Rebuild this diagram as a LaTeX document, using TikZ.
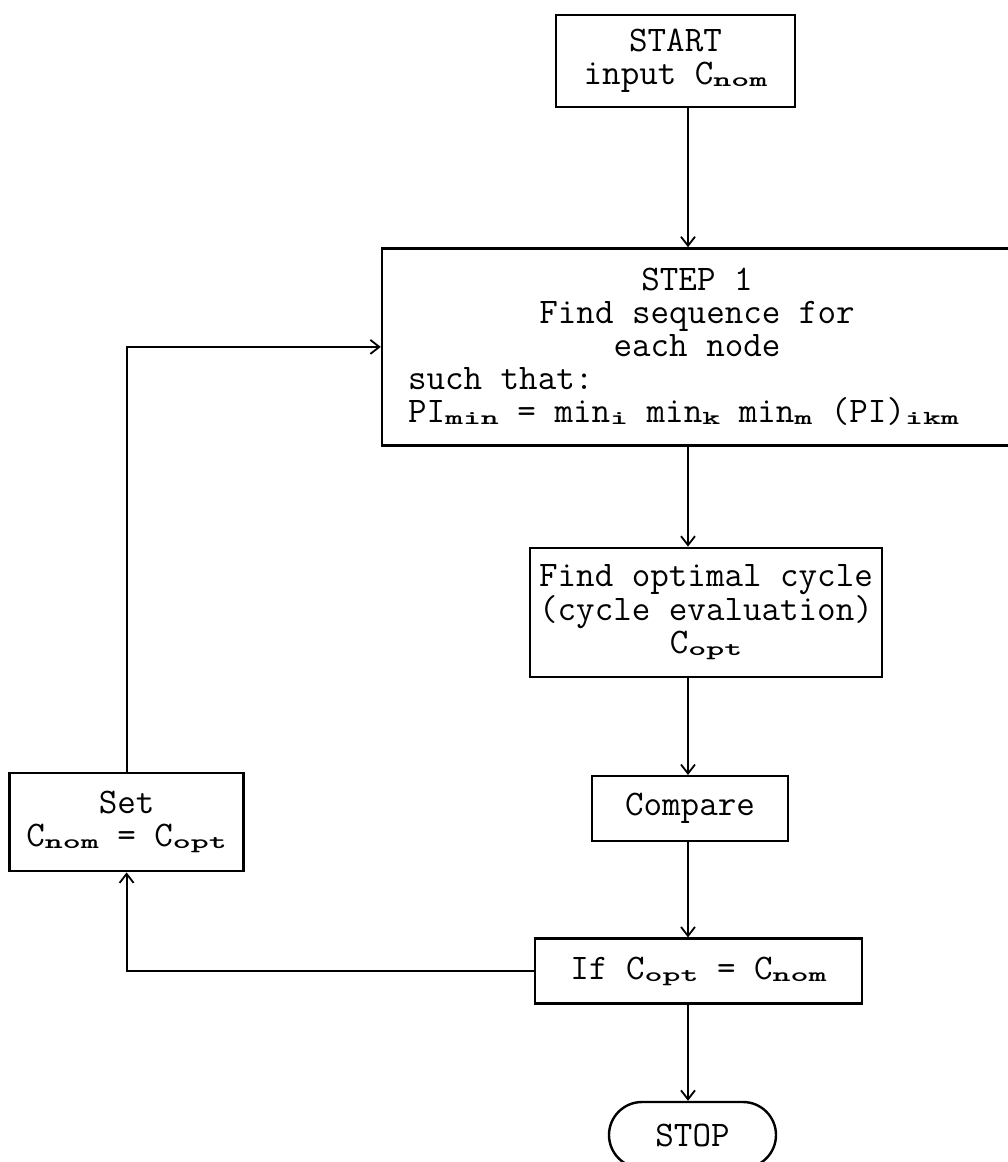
\documentclass[tikz,border=0pt]{standalone}
\usepackage{fontspec}
\usepackage{graphicx}
\usetikzlibrary{arrows.meta, positioning, shapes.misc}
% short wide subscripts as in the typed original
\newcommand{\lo}[1]{\raisebox{-2pt}{\scalebox{0.95}[0.55]{\bfseries #1}}}
% a line set flush left across the wide box
\newcommand{\flushline}[1]{\makebox[578pt][l]{#1}}
\tikzset{
  box/.style={
    rectangle,
    draw,
    line width=2.4pt,
    align=center,
    inner sep=4pt,
    font=\ttfamily\fontsize{36}{33}\selectfont
  },
  terminal/.style={
    rounded rectangle,
    draw,
    line width=2.4pt,
    inner sep=4pt,
    font=\ttfamily\fontsize{36}{33}\selectfont
  },
  arrow/.style={-{Straight Barb[length=9pt,width=14pt]}, line width=1.8pt}
}
\begin{document}
\begin{tikzpicture}[x=1pt, y=-1pt]
  \useasboundingbox (0,0) rectangle (1008,1162);

  \node[box, minimum width=239pt, minimum height=92pt] (start) at (675.5,61)
        {START\\input C\lo{nom}};

  \node[box, below=139pt of start, xshift=21.5pt, minimum width=630pt,
        minimum height=197pt] (step)
        {STEP 1\\Find sequence for\\each node\\
         \flushline{such that:}\\
         \flushline{PI\lo{min} = min\lo{i} min\lo{k} min\lo{m} (PI)\lo{ikm}}};

  \node[box, below=100pt of step, xshift=9pt, minimum width=352pt,
        minimum height=129pt] (find)
        {Find optimal cycle\\(cycle evaluation)\\C\lo{opt}};

  \node[box, below=97pt of find, xshift=-16pt, minimum width=196pt,
        minimum height=65pt] (compare) {Compare};

  \node[box, below=95pt of compare, xshift=8.5pt, minimum width=327pt,
        minimum height=65pt] (test) {If C\lo{opt} = C\lo{nom}};

  \node[terminal, below=96pt of test, xshift=-6pt, minimum width=175pt,
        minimum height=66pt] (stop) {STOP};

  \node[box, left=346pt of compare, yshift=-13.5pt, minimum width=234pt,
        minimum height=98pt] (set) {Set\\C\lo{nom} = C\lo{opt}};

  \coordinate (spine) at (688,0);

  \draw[arrow] (start.south -| spine) -- (step.north -| spine);
  \draw[arrow] (step.south -| spine) -- (find.north -| spine);
  \draw[arrow] (find.south -| spine) -- (compare.north -| spine);
  \draw[arrow] (compare.south -| spine) -- (test.north -| spine);
  \draw[arrow] (test.south -| spine) -- (stop.north -| spine);

  \draw[arrow] (test.west) -| (set.south);
  \draw[arrow] (set.north) |- (step.west);
\end{tikzpicture}
\end{document}
